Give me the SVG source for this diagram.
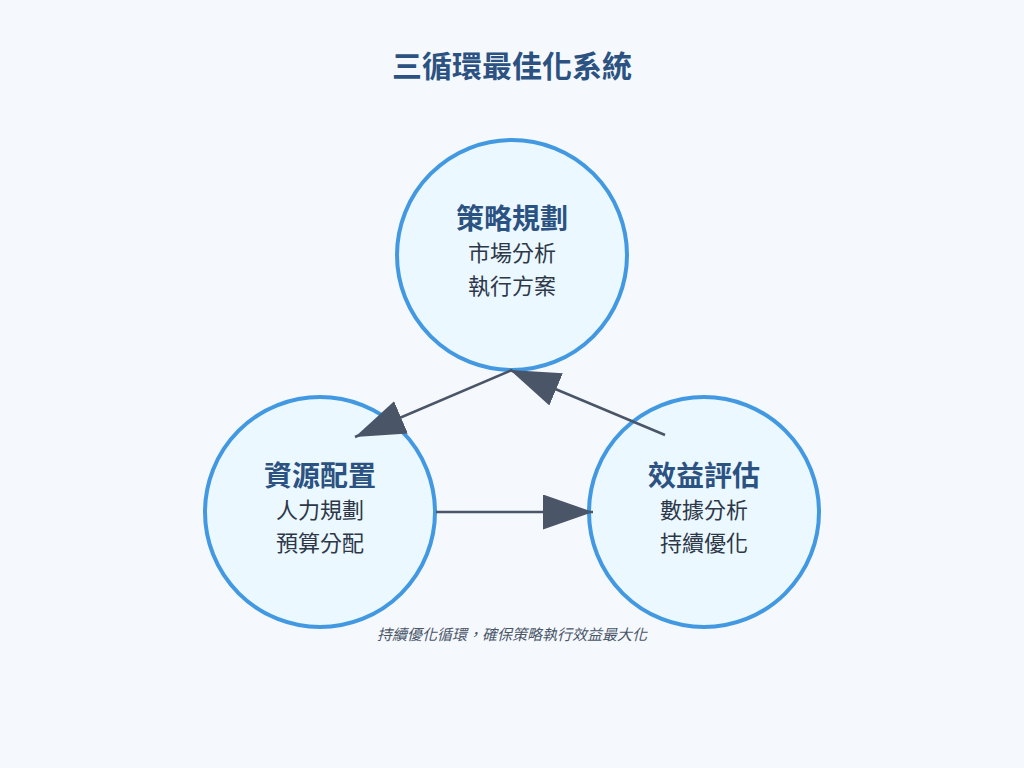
<svg xmlns="http://www.w3.org/2000/svg" width="1024" height="768" viewBox="0 0 1024 768">
<style>
.bg{fill:#f5f9fd}
.node{fill:#ebf8ff;stroke:#4299e1;stroke-width:4}
.title{font-family:"Noto Sans CJK TC","Noto Sans",sans-serif;font-weight:bold;font-size:30px;fill:#2c5282;text-anchor:middle}
.ntitle{font-family:"Noto Sans CJK TC","Noto Sans",sans-serif;font-weight:bold;font-size:28px;fill:#2c5282;text-anchor:middle}
.sub{font-family:"Noto Sans CJK TC","Noto Sans",sans-serif;font-size:22px;fill:#2d3748;text-anchor:middle}
.note{font-family:"Noto Sans CJK TC","Noto Sans",sans-serif;font-style:italic;font-size:15px;fill:#4a5568;text-anchor:middle}
.conn{stroke:#4a5568;stroke-width:2.5;fill:none;marker-end:url(#ah)}
</style>
<defs>
<marker id="ah" markerUnits="userSpaceOnUse" markerWidth="50" markerHeight="36" refX="50" refY="17.5" orient="auto">
<path d="M0,0 L50,17.5 L0,35 z" fill="#4a5568"/>
</marker>
</defs>
<rect class="bg" x="0" y="0" width="1024" height="768"/>
<text class="title" x="512" y="77">三循環最佳化系統</text>
<g id="node-strategy">
<circle class="node" cx="512" cy="255" r="115"/>
<text class="ntitle" x="512" y="229">策略規劃</text>
<text class="sub" x="512" y="261">市場分析</text>
<text class="sub" x="512" y="294">執行方案</text>
</g>
<g id="node-resource">
<circle class="node" cx="320" cy="512" r="115"/>
<text class="ntitle" x="320" y="486">資源配置</text>
<text class="sub" x="320" y="518">人力規劃</text>
<text class="sub" x="320" y="551">預算分配</text>
</g>
<g id="node-evaluation">
<circle class="node" cx="704" cy="512" r="115"/>
<text class="ntitle" x="704" y="486">效益評估</text>
<text class="sub" x="704" y="518">數據分析</text>
<text class="sub" x="704" y="551">持續優化</text>
</g>
<g id="connectors">
<line class="conn" x1="512" y1="370" x2="355" y2="437"/>
<line class="conn" x1="665" y1="435" x2="510" y2="370"/>
<line class="conn" x1="436" y1="512" x2="593" y2="512"/>
</g>
<text class="note" x="512" y="640">持續優化循環，確保策略執行效益最大化</text>
</svg>
